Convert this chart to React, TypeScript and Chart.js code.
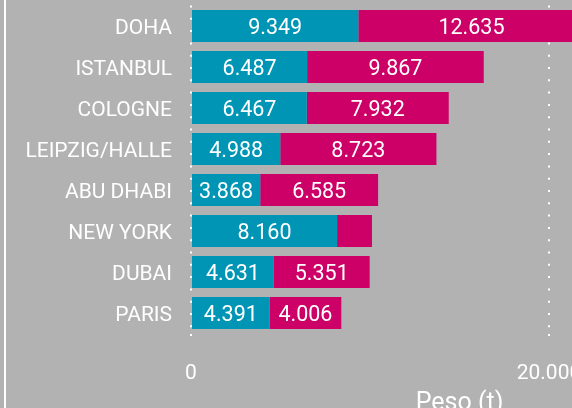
import React, { useEffect, useRef } from "react";
import { Chart, registerables } from "chart.js";

Chart.register(...registerables);

const categories = ["DOHA", "ISTANBUL", "COLOGNE", "LEIPZIG/HALLE", "ABU DHABI", "NEW YORK", "DUBAI", "PARIS"];
const seriesA = [9349, 6487, 6467, 4988, 3868, 8160, 4631, 4391];
const seriesB = [12635, 9867, 7932, 8723, 6585, 1950, 5351, 4006];
const xTicks = [0, 20000];

const FONT = "Roboto, 'DejaVu Sans', sans-serif";
const BG = "#b2b2b2";
const BLUE = "#0094b5";
const MAGENTA = "#cc0066";

const fmt = (v: number) => String(Math.round(v)).replace(/\B(?=(\d{3})+(?!\d))/g, ".");

const valueLabels = {
  id: "valueLabels",
  afterDatasetsDraw(chart: any) {
    const ctx = chart.ctx;
    ctx.save();
    ctx.fillStyle = "#ffffff";
    ctx.textBaseline = "middle";
    // category labels
    const yScale = chart.scales.y;
    ctx.font = `400 21px ${FONT}`;
    ctx.textAlign = "right";
    categories.forEach((c, i) => {
      ctx.fillText(c, yScale.right - 19, yScale.getPixelForValue(i) + 2.5);
    });
    // values
    ctx.font = `400 21.5px ${FONT}`;
    ctx.textAlign = "center";
    chart.data.datasets.forEach((ds: any, di: number) => {
      const meta = chart.getDatasetMeta(di);
      meta.data.forEach((bar: any, i: number) => {
        const v = ds.data[i];
        const text = fmt(v);
        const w = Math.abs(bar.x - bar.base);
        if (ctx.measureText(text).width + 8 > w) return;
        ctx.fillText(text, (bar.x + bar.base) / 2, bar.y + 3);
      });
    });
    ctx.restore();
  },
};

export default function App() {
  const ref = useRef<HTMLCanvasElement | null>(null);
  useEffect(() => {
    if (!ref.current) return;
    const chart = new Chart(ref.current, {
      type: "bar",
      data: {
        labels: categories,
        datasets: [
          { label: "A", data: seriesA, backgroundColor: BLUE, borderWidth: 0, barPercentage: 1, categoryPercentage: 32 / 41 },
          { label: "B", data: seriesB, backgroundColor: MAGENTA, borderWidth: 0, barPercentage: 1, categoryPercentage: 32 / 41 },
        ],
      },
      options: {
        indexAxis: "y",
        animation: false,
        responsive: false,
        maintainAspectRatio: false,
        layout: { padding: { top: 5.5, left: 0, right: 72, bottom: 0 } },
        plugins: { legend: { display: false }, tooltip: { enabled: false } },
        scales: {
          x: {
            stacked: true,
            min: 0,
            max: 30000,
            afterBuildTicks: (scale: any) => {
              scale.ticks = xTicks.map((v) => ({ value: v }));
            },
            afterFit: (scale: any) => {
              scale.height = 96.5;
            },
            grid: {
              color: "#ffffff",
              lineWidth: 2,
              tickBorderDash: [2, 10],
              tickLength: 11,
              drawTicks: true,
            },
            border: { display: false, dash: [2, 10.3] },
            ticks: {
              color: "#ffffff",
              font: { family: FONT, size: 21 },
              padding: 17,
              maxRotation: 0,
              callback: (v: any) => fmt(Number(v)),
            },
            title: {
              display: true,
              text: "Peso (t)",
              color: "#ffffff",
              font: { family: FONT, size: 25 },
              padding: { top: 0, bottom: 11 },
            },
          },
          y: {
            stacked: true,
            afterFit: (scale: any) => {
              scale.width = 191;
              scale.paddingTop = 0;
              scale.paddingBottom = 0;
            },
            grid: { display: false, drawTicks: false },
            border: { display: false },
            ticks: {
              color: "rgba(0,0,0,0)",
              font: { family: FONT, size: 21 },
              padding: 19,
            },
          },
        },
      },
      plugins: [valueLabels],
    } as any);
    return () => chart.destroy();
  }, []);
  return (
    <div style={{ position: "fixed", left: 0, top: 0, width: 572, height: 408, overflow: "hidden", background: BG }}>
      <canvas ref={ref} width={800} height={430} style={{ position: "absolute", left: 0, top: 0, width: 800, height: 430 }} />
      <div style={{ position: "absolute", left: 4, top: 0, width: 2, height: 408, background: "#ffffff" }} />
    </div>
  );
}
